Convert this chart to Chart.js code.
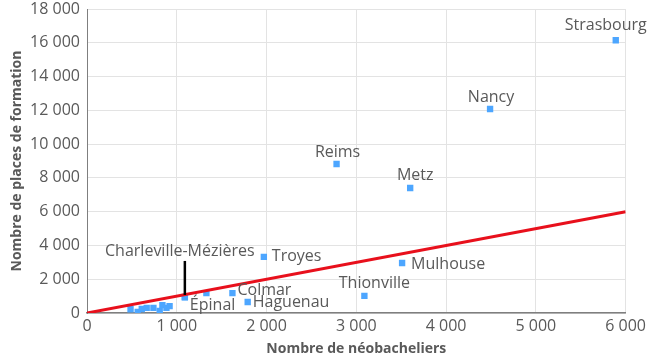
<!DOCTYPE html>
<html>
<head>
<meta charset="utf-8">
<script src="https://cdn.jsdelivr.net/npm/chart.js@4"></script>
<style>
  html, body { margin: 0; padding: 0; background: #fff; }
  #wrap { width: 650px; height: 363px; }
</style>
</head>
<body>
<div id="wrap"><canvas id="scatterChart"></canvas></div>
<script>
// villes (vide = point sans étiquette)
const cities = ["Strasbourg", "Nancy", "Reims", "Metz", "Troyes", "Mulhouse", "Thionville",
  "Colmar", "Haguenau", "Charleville-Mézières", "Épinal", "",
  "", "", "", "", "", "", "", "", ""];
const neobacheliers = [5890, 4490, 2780, 3600, 1970, 3510, 3090,
  1620, 1790, 1090, 1090, 1330,
  485, 565, 610, 665, 740, 810, 840, 885, 920];
const places = [16150, 12080, 8820, 7400, 3320, 2960, 1010,
  1180, 650, 950, 930, 1180,
  220, 60, 240, 300, 300, 120, 470, 300, 410];

// droite y = x
const lineX = [0, 6000];
const lineY = [0, 6000];

const xTicks = [0, 1000, 2000, 3000, 4000, 5000, 6000];
const yTicks = [0, 2000, 4000, 6000, 8000, 10000, 12000, 14000, 16000, 18000];

// position des étiquettes par rapport au point
const labelPos = {
  "Strasbourg": { dx: -10, dy: -15, align: "center" },
  "Nancy": { dx: 1, dy: -12, align: "center" },
  "Reims": { dx: 1, dy: -12, align: "center" },
  "Metz": { dx: 5, dy: -13, align: "center" },
  "Thionville": { dx: 10, dy: -13, align: "center" },
  "Troyes": { dx: 8, dy: 0, align: "left" },
  "Mulhouse": { dx: 9, dy: 1, align: "left" },
  "Colmar": { dx: 5, dy: -3, align: "left" },
  "Haguenau": { dx: 5, dy: 0, align: "left" },
  "Épinal": { dx: 5, dy: 8, align: "left" },
  "Charleville-Mézières": { dx: -5, dy: -46, align: "center", leader: true },
};

const fmt = (v) => String(v).replace(/\B(?=(\d{3})+(?!\d))/g, " ");

const textColor = "#595959";
const fontFamily = "'Open Sans', sans-serif";

const cityLabels = {
  id: "cityLabels",
  afterDatasetsDraw(chart) {
    const ctx = chart.ctx;
    const meta = chart.getDatasetMeta(1);
    ctx.save();
    ctx.font = "16px " + fontFamily;
    ctx.fillStyle = textColor;
    ctx.textBaseline = "middle";
    meta.data.forEach((pt, i) => {
      const name = cities[i];
      if (!name) return;
      const p = labelPos[name];
      if (p.leader) {
        ctx.strokeStyle = "#000";
        ctx.lineWidth = 2.5;
        ctx.beginPath();
        ctx.moveTo(pt.x, pt.y - 2);
        ctx.lineTo(pt.x, pt.y - 36);
        ctx.stroke();
      }
      ctx.textAlign = p.align;
      ctx.fillText(name, pt.x + p.dx, pt.y + p.dy);
    });
    ctx.restore();
  },
};

new Chart(document.getElementById("scatterChart"), {
  type: "scatter",
  data: {
    datasets: [
      {
        type: "line",
        data: lineX.map((x, i) => ({ x: x, y: lineY[i] })),
        borderColor: "#e8101c",
        borderWidth: 3,
        pointRadius: 0,
        fill: false,
      },
      {
        data: neobacheliers.map((x, i) => ({ x: x, y: places[i] })),
        pointStyle: "rect",
        pointRadius: 4.5,
        backgroundColor: "#4da6ff",
        borderColor: "#4da6ff",
        borderWidth: 0,
      },
    ],
  },
  options: {
    responsive: true,
    maintainAspectRatio: false,
    animation: false,
    layout: { padding: { left: 9, right: 20, top: 9, bottom: 6 } },
    plugins: {
      legend: { display: false },
      tooltip: { enabled: false },
    },
    scales: {
      x: {
        type: "linear",
        min: 0,
        max: 6000,
        afterBuildTicks: (s) => { s.ticks = xTicks.map((v) => ({ value: v })); },
        afterFit: (s) => { s.height = 44; },
        grid: { color: "#e3e3e3", drawTicks: false },
        border: { color: "#7f7f7f", width: 1.5 },
        ticks: {
          padding: 4,
          maxRotation: 0,
          color: textColor,
          font: { family: fontFamily, size: 16 },
          callback: (v) => fmt(v),
        },
        title: {
          display: true,
          text: "Nombre de néobacheliers",
          color: textColor,
          padding: { top: 2, bottom: 0 },
          font: { family: fontFamily, size: 14, weight: "bold" },
        },
      },
      y: {
        type: "linear",
        min: 0,
        max: 18000,
        afterBuildTicks: (s) => { s.ticks = yTicks.map((v) => ({ value: v })); },
        afterFit: (s) => { s.width = 78; s.paddingTop = 0; s.paddingBottom = 0; },
        grid: { color: "#e3e3e3", drawTicks: false },
        border: { color: "#7f7f7f", width: 1 },
        ticks: {
          padding: 7,
          color: textColor,
          font: { family: fontFamily, size: 16 },
          callback: (v) => fmt(v),
        },
        title: {
          display: true,
          text: "Nombre de places de formation",
          color: textColor,
          padding: { top: 0, bottom: 2 },
          font: { family: fontFamily, size: 14, weight: "bold" },
        },
      },
    },
  },
  plugins: [cityLabels],
});
</script>
</body>
</html>
